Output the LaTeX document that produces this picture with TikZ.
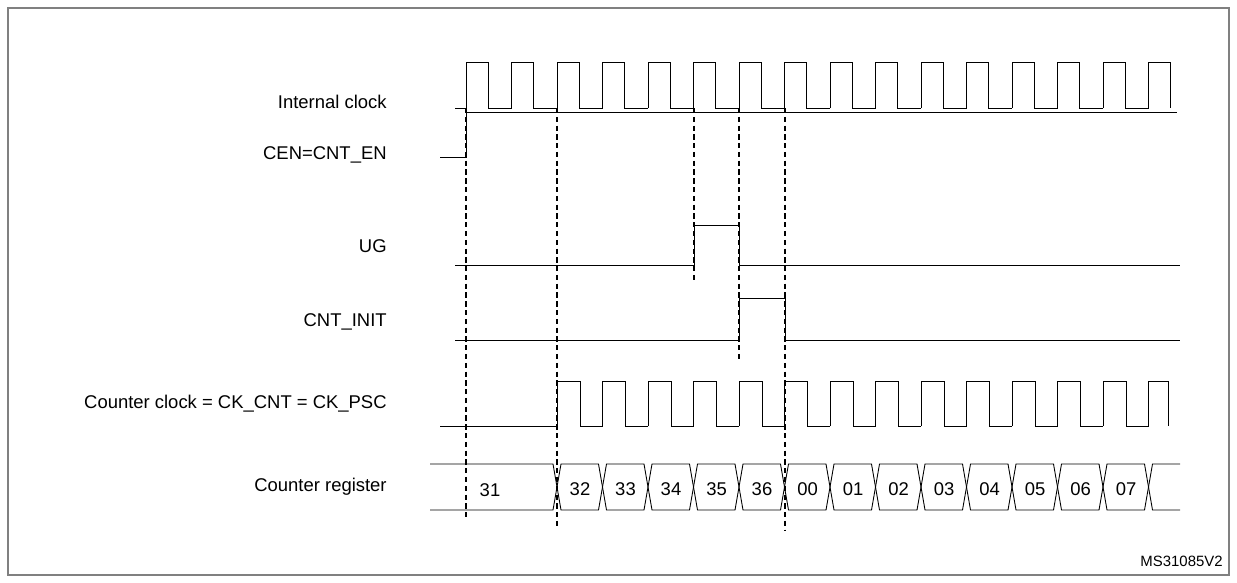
\documentclass[tikz,border=0pt]{standalone}
\usepackage{fontspec}
\setmainfont{Liberation Sans}
\begin{document}
\begin{tikzpicture}[x=0.02cm, y=-0.02cm, font=\fontsize{10.5}{12}\selectfont,
	wave/.style={line width=0.5pt},
	sync/.style={densely dashed, line width=0.6pt},
	lbl/.style={anchor=east, inner sep=0pt}]
		\useasboundingbox (0,0) rectangle (1237,582);
		\draw[gray, line width=0.8pt] (8,8) rectangle (1229,575);
		
		%labels
		\node[lbl] (clk) at (387,102){Internal clock};
		\node[lbl] (cen) at (387,155){CEN=CNT\_EN};
		\node[lbl] (ug) at (387,246){UG};
		\node[lbl] (init) at (387,322){CNT\_INIT};
		\node[lbl] (ckcnt) at (387,404){Counter clock = CK\_CNT = CK\_PSC};
		\node[lbl] (reg) at (387,487){Counter register};
		\node[anchor=south east, inner sep=0pt] (ms) at (1223,567){\fontsize{8.5}{9}\selectfont MS31085V2};
		
		%internal clock
		\draw[wave] (455,108) -- (466,108);
		\foreach \k in {0,...,14}{
			\draw[wave] (466+45.5*\k,108) -- (466+45.5*\k,62) -- (488+45.5*\k,62)
				-- (488+45.5*\k,108) -- (511.5+45.5*\k,108);
		}
		\draw[wave] (1148.5,108) -- (1148.5,62) -- (1170,62) -- (1170,108);
		
		%enable, UG, CNT_INIT
		\draw[wave] (440,157) -- (466,157) -- (466,112) -- (1177,112);
		\draw[wave] (455,265) -- (694,265) -- (694,225) -- (739,225) -- (739,265) -- (1180,265);
		\draw[wave] (455,340) -- (739,340) -- (739,298) -- (785,298) -- (785,340) -- (1180,340);
		
		%counter clock
		\draw[wave] (440,426) -- (557,426);
		\foreach \k in {0,...,12}{
			\draw[wave] (557+45.5*\k,426) -- (557+45.5*\k,381) -- (580+45.5*\k,381)
				-- (580+45.5*\k,426) -- (602.5+45.5*\k,426);
		}
		\draw[wave] (1148.5,426) -- (1148.5,381) -- (1168,381) -- (1168,426);
		
		%counter register
		\draw[wave] (430,464) -- (553,464) -- (557,487) -- (553,510) -- (430,510);
		\node (r31) at (490,490){31};
		\foreach \v [count=\k from 0] in {32,33,34,35,36,00,01,02,03,04,05,06,07}{
			\draw[wave] (557+45.5*\k,487) -- (561+45.5*\k,464) -- (598.5+45.5*\k,464)
				-- (602.5+45.5*\k,487) -- (598.5+45.5*\k,510) -- (561+45.5*\k,510) -- cycle;
			\node at (580+45.5*\k,489){\v};
		}
		\draw[wave] (1180,464) -- (1152.5,464) -- (1148.5,487) -- (1152.5,510) -- (1180,510);
		
		%dashed markers
		\draw[sync] (466,108) -- (466,520);
		\draw[sync] (557,108) -- (557,528);
		\draw[sync] (694,108) -- (694,280);
		\draw[sync] (739,108) -- (739,360);
		\draw[sync] (785,108) -- (785,530);
\end{tikzpicture}
\end{document}
